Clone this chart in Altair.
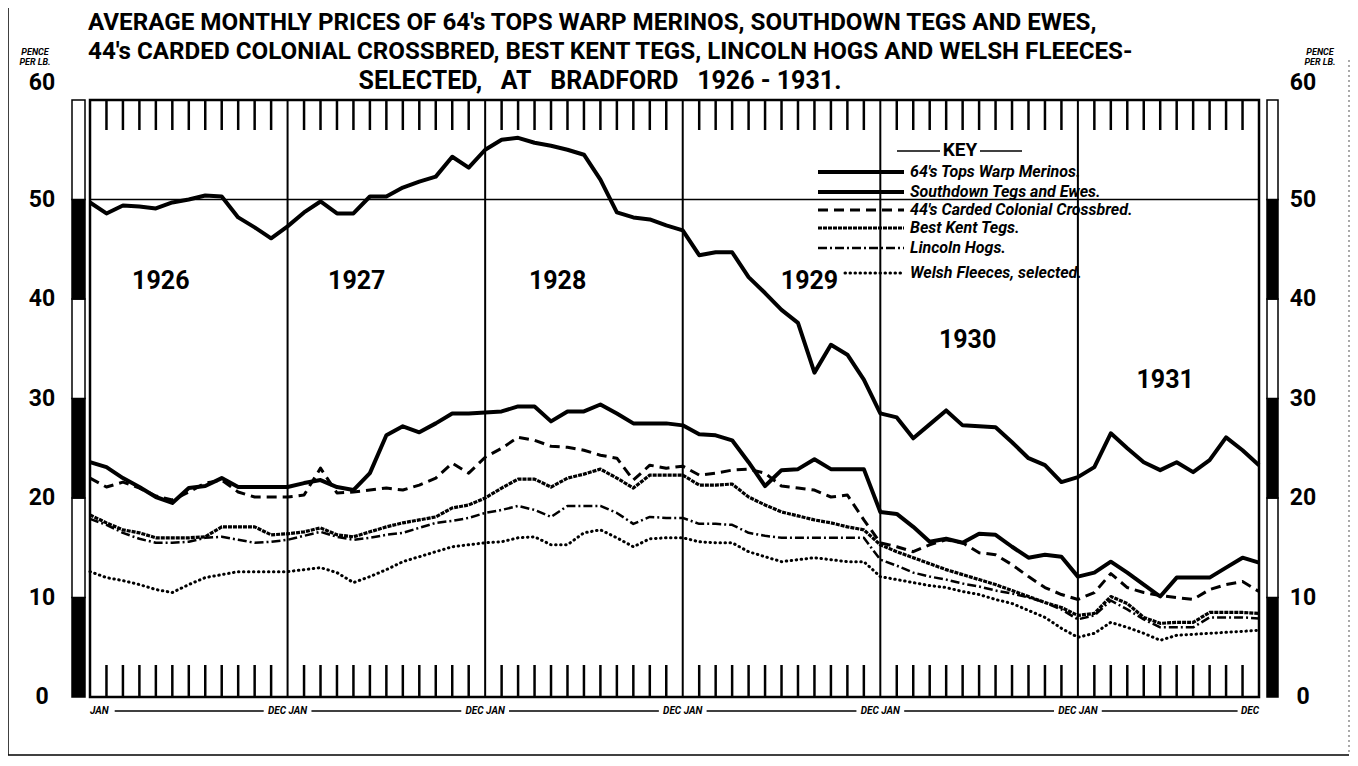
import altair as alt
import pandas as pd

# ---------------- data (pence per lb, monthly Jan 1926 .. Dec 1931) ----------------
months = list(range(72))
merinos = [49.7, 48.6, 49.4, 49.3, 49.1, 49.7, 50.0, 50.4, 50.3, 48.2, 47.2, 46.1,
           47.3, 48.7, 49.8, 48.6, 48.6, 50.3, 50.3, 51.2, 51.8, 52.3, 54.3, 53.2,
           55.0, 56.0, 56.2, 55.7, 55.4, 55.0, 54.5, 52.0, 48.7, 48.2, 48.0, 47.4,
           46.9, 44.4, 44.7, 44.7, 42.2, 40.6, 38.9, 37.6, 32.6, 35.4, 34.4, 31.9,
           28.5, 28.1, 26.0, 27.4, 28.8, 27.3, 27.2, 27.1, 25.6, 24.0, 23.3, 21.6,
           22.1, 23.1, 26.5, 25.0, 23.6, 22.8, 23.6, 22.6, 23.8, 26.1, 24.8, 23.3]
southdown = [23.6, 23.1, 22.0, 21.1, 20.1, 19.5, 21.0, 21.2, 22.0, 21.1, 21.1, 21.1,
             21.1, 21.5, 21.8, 21.1, 20.8, 22.5, 26.3, 27.2, 26.6, 27.5, 28.5, 28.5,
             28.6, 28.7, 29.2, 29.2, 27.7, 28.7, 28.7, 29.4, 28.5, 27.5, 27.5, 27.5,
             27.3, 26.4, 26.3, 25.8, 23.6, 21.2, 22.8, 22.9, 23.9, 22.9, 22.9, 22.9,
             18.6, 18.4, 17.1, 15.6, 15.9, 15.5, 16.4, 16.3, 15.1, 14.0, 14.3, 14.1,
             12.1, 12.5, 13.6, 12.5, 11.3, 10.1, 12.0, 12.0, 12.0, 13.0, 14.0, 13.5]
crossbred = [22.0, 21.1, 21.6, 21.0, 20.2, 19.8, 20.6, 21.5, 21.8, 20.6, 20.1, 20.1,
             20.1, 20.3, 23.0, 20.5, 20.6, 20.8, 21.0, 20.8, 21.3, 22.0, 23.5, 22.5,
             24.1, 25.0, 26.1, 25.8, 25.2, 25.1, 24.8, 24.3, 24.0, 21.8, 23.3, 23.0,
             23.2, 22.3, 22.5, 22.8, 22.9, 22.5, 21.2, 21.0, 20.8, 20.1, 20.3, 17.8,
             15.5, 15.1, 14.6, 15.3, 15.8, 15.5, 14.5, 14.3, 13.3, 12.1, 11.0, 10.3,
             9.8, 10.5, 12.4, 11.0, 10.5, 10.2, 10.0, 9.8, 10.8, 11.3, 11.6, 10.6]
kent = [18.3, 17.5, 16.8, 16.5, 16.0, 16.0, 16.0, 16.1, 17.1, 17.1, 17.1, 16.3,
        16.4, 16.6, 17.0, 16.3, 16.1, 16.6, 17.1, 17.5, 17.8, 18.1, 19.0, 19.3,
        20.0, 21.0, 21.9, 21.9, 21.1, 22.0, 22.4, 22.9, 22.0, 21.0, 22.3, 22.3,
        22.3, 21.3, 21.3, 21.4, 20.1, 19.3, 18.6, 18.2, 17.8, 17.5, 17.1, 16.8,
        15.3, 14.6, 14.0, 13.4, 12.8, 12.3, 11.8, 11.3, 10.7, 10.1, 9.5, 9.0,
        8.2, 8.4, 10.1, 9.4, 8.0, 7.4, 7.5, 7.5, 8.5, 8.5, 8.5, 8.4]
lincoln = [17.9, 17.3, 16.5, 15.9, 15.5, 15.5, 15.6, 16.0, 16.1, 15.8, 15.5, 15.6,
           15.8, 16.2, 16.6, 16.1, 15.8, 16.0, 16.3, 16.5, 17.0, 17.5, 17.7, 18.0,
           18.5, 18.8, 19.2, 18.8, 18.1, 19.2, 19.2, 19.2, 18.5, 17.4, 18.1, 18.0,
           18.0, 17.4, 17.4, 17.3, 16.5, 16.2, 16.0, 16.0, 16.0, 16.0, 16.0, 16.0,
           13.8, 13.2, 12.5, 12.1, 11.8, 11.4, 11.1, 10.7, 10.4, 10.0, 9.5, 8.8,
           7.8, 8.2, 9.7, 8.8, 7.8, 7.0, 7.0, 7.0, 8.0, 8.0, 8.0, 7.9]
welsh = [12.6, 12.0, 11.7, 11.3, 10.8, 10.5, 11.3, 12.0, 12.3, 12.6, 12.6, 12.6,
         12.6, 12.8, 13.0, 12.5, 11.5, 12.1, 12.8, 13.6, 14.1, 14.6, 15.1, 15.3,
         15.5, 15.6, 16.0, 16.1, 15.3, 15.3, 16.5, 16.8, 16.0, 15.1, 15.9, 16.0,
         16.0, 15.6, 15.5, 15.5, 14.6, 14.1, 13.6, 13.8, 14.0, 13.8, 13.6, 13.6,
         12.1, 11.8, 11.5, 11.2, 11.0, 10.6, 10.3, 9.8, 9.4, 8.7, 8.0, 6.9,
         6.0, 6.4, 7.5, 7.0, 6.4, 5.7, 6.2, 6.3, 6.4, 6.5, 6.6, 6.7]

series_names = ["64's Tops Warp Merinos.", "Southdown Tegs and Ewes.",
                "44's Carded Colonial Crossbred.", "Best Kent Tegs.",
                "Lincoln Hogs.", "Welsh Fleeces, selected."]
years = ["1926", "1927", "1928", "1929", "1930", "1931"]
year_breaks = [12, 24, 36, 48, 60]
pence_ticks = [0, 10, 20, 30, 40, 50, 60]
bar_bounds = [0, 10, 20, 30, 40, 50, 60]
NB = "\u00a0"
title_lines = ["AVERAGE  MONTHLY PRICES OF 64's TOPS WARP MERINOS, SOUTHDOWN TEGS AND EWES,",
               "44's CARDED COLONIAL CROSSBRED, BEST KENT TEGS, LINCOLN HOGS AND WELSH FLEECES-",
               "SELECTED," + NB * 3 + "AT" + NB * 3 + "BRADFORD" + NB * 3 + "1926" + NB + "-" + NB + "1931."]
axis_unit = ["PENCE", "PER LB."]
key_title = "KEY"

# ---------------- layout / styles ----------------
W, H = 1169, 597
FONT = "Roboto"
xs = alt.Scale(domain=[0, 71], nice=False, zero=False)
ys = alt.Scale(domain=[0, 60], nice=False, zero=True)

styles = [
    dict(strokeWidth=4),
    dict(strokeWidth=4),
    dict(strokeWidth=3, strokeDash=[10, 6]),
    dict(strokeWidth=3.2, strokeDash=[4, 1]),
    dict(strokeWidth=2.5, strokeDash=[9, 3, 2, 3]),
    dict(strokeWidth=3, strokeDash=[0.5, 4.5], strokeCap="round"),
]

values = [merinos, southdown, crossbred, kent, lincoln, welsh]
rows = []
for name, vals in zip(series_names, values):
    for m, v in zip(months, vals):
        rows.append({"series": name, "month": m, "price": v})
df = pd.DataFrame(rows)

layers = []

# outer border of the page
border = pd.DataFrame({"k": [0]})
layers.append(alt.Chart(border).mark_rule(color="black", strokeWidth=1.5).encode(
    x=alt.value(-82), y=alt.value(-92), y2=alt.value(H + 58)))
layers.append(alt.Chart(border).mark_rule(color="black", strokeWidth=1.5).encode(
    x=alt.value(-82), x2=alt.value(W + 90), y=alt.value(H + 58)))
layers.append(alt.Chart(border).mark_rule(color="#555", strokeWidth=1, strokeDash=[2, 3]).encode(
    x=alt.value(W + 90), y=alt.value(-40), y2=alt.value(H + 58)))

# scale bars (alternating black / white)
bars = pd.DataFrame({"lo": bar_bounds[:-1], "hi": bar_bounds[1:]})
bars["fill"] = ["black" if i % 2 == 0 else "white" for i in range(len(bars))]
for x0, x1 in [(-18, -5), (W + 8, W + 19)]:
    layers.append(alt.Chart(bars).mark_rect(stroke="black", strokeWidth=1.5).encode(
        x=alt.value(x0), x2=alt.value(x1),
        y=alt.Y("lo:Q", scale=ys, axis=None), y2="hi:Q",
        fill=alt.Fill("fill:N", scale=None)))

# month ticks (top and bottom)
tick_months = pd.DataFrame({"month": [m for m in range(1, 71) if m not in year_breaks]})
layers.append(alt.Chart(tick_months).mark_rule(color="black", strokeWidth=2.5).encode(
    x=alt.X("month:Q", scale=xs, axis=None), y=alt.value(0), y2=alt.value(30)))
layers.append(alt.Chart(tick_months).mark_rule(color="black", strokeWidth=2.5).encode(
    x=alt.X("month:Q", scale=xs, axis=None), y=alt.value(H - 32), y2=alt.value(H)))

# year dividers
layers.append(alt.Chart(pd.DataFrame({"month": year_breaks})).mark_rule(
    color="black", strokeWidth=2).encode(
    x=alt.X("month:Q", scale=xs, axis=None), y=alt.value(0), y2=alt.value(H)))

# 50 pence reference line
layers.append(alt.Chart(pd.DataFrame({"p": [50]})).mark_rule(color="black", strokeWidth=1.6).encode(
    y=alt.Y("p:Q", scale=ys, axis=None), x=alt.value(0), x2=alt.value(W)))

# price lines
for name, st in zip(series_names, styles):
    layers.append(alt.Chart(df).transform_filter(alt.datum.series == name).mark_line(
        color="black", strokeJoin="round", **st).encode(
        x=alt.X("month:Q", scale=xs, axis=None),
        y=alt.Y("price:Q", scale=ys, axis=None)))

# pence labels, left and right
lab = pd.DataFrame({"p": pence_ticks, "t": [str(p) for p in pence_ticks]})
lab["dy"] = [-17 if p == 60 else 0 for p in pence_ticks]
for xpos in [-48, W + 44]:
    for dy in [0, -17]:
        layers.append(alt.Chart(lab).transform_filter(alt.datum.dy == dy).mark_text(
            font=FONT, fontSize=23, fontWeight="bold", baseline="middle", align="center",
            dy=dy).encode(
            x=alt.value(xpos), y=alt.Y("p:Q", scale=ys, axis=None), text="t:N"))

# "PENCE PER LB."
for xpos in [-55, W + 61]:
    for i, t in enumerate(axis_unit):
        layers.append(alt.Chart(pd.DataFrame({"t": [t]})).mark_text(
            font=FONT, fontSize=9, fontWeight="bold", fontStyle="italic",
            align="center", baseline="middle").encode(
            x=alt.value(xpos), y=alt.value(-48 + 10 * i), text="t:N"))

# bottom month labels
bot = []
bot.append({"t": "JAN", "month": 0, "al": "left"})
for b in year_breaks:
    bot.append({"t": "DEC JAN", "month": b, "al": "center"})
bot.append({"t": "DEC", "month": 71, "al": "right"})
bot = pd.DataFrame(bot)
for al in ["left", "center", "right"]:
    layers.append(alt.Chart(bot).transform_filter(alt.datum.al == al).mark_text(
        font=FONT, fontSize=10, fontWeight="bold", fontStyle="italic", align=al,
        baseline="middle").encode(
        x=alt.X("month:Q", scale=xs, axis=None), y=alt.value(H + 14), text="t:N"))
seg_edges = [0] + year_breaks + [71]
segs = pd.DataFrame({"a": [seg_edges[i] + (1.5 if i == 0 else 1.45) for i in range(6)],
                     "b": [seg_edges[i + 1] - (1.3 if i == 5 else 1.45) for i in range(6)]})
layers.append(alt.Chart(segs).mark_rule(color="black", strokeWidth=1.3).encode(
    x=alt.X("a:Q", scale=xs, axis=None), x2="b:Q", y=alt.value(H + 14)))

# year labels
year_pos = pd.DataFrame({"t": years,
                         "month": [4.3, 16.2, 28.4, 43.7, 53.3, 65.3],
                         "p": [41.8, 41.8, 41.8, 41.8, 35.9, 31.9]})
layers.append(alt.Chart(year_pos).mark_text(
    font=FONT, fontSize=25, fontWeight="bold", align="center", baseline="middle").encode(
    x=alt.X("month:Q", scale=xs, axis=None), y=alt.Y("p:Q", scale=ys, axis=None), text="t:N"))

# key
layers.append(alt.Chart(pd.DataFrame({"t": [key_title]})).mark_text(
    font=FONT, fontSize=19, fontWeight="bold", align="center", baseline="middle").encode(
    x=alt.value(870), y=alt.value(50), text="t:N"))
for a, b in [(807, 850), (890, 932)]:
    layers.append(alt.Chart(pd.DataFrame({"k": [0]})).mark_rule(color="black", strokeWidth=1.5).encode(
        x=alt.value(a), x2=alt.value(b), y=alt.value(51)))
key_y = [72, 92, 110, 128, 148, 173]
for i, (name, st) in enumerate(zip(series_names, styles)):
    x0 = 755 if i == 5 else 728
    layers.append(alt.Chart(pd.DataFrame({"series": [name]})).mark_rule(color="black", **st).encode(
        x=alt.value(x0), x2=alt.value(814), y=alt.value(key_y[i])))
    layers.append(alt.Chart(pd.DataFrame({"series": [name]})).mark_text(
        font=FONT, fontSize=16, fontWeight="bold", fontStyle="italic", align="left",
        baseline="middle").encode(
        x=alt.value(820), y=alt.value(key_y[i]), text="series:N"))

# title
title_pos = [(-2, -77, "left", 24.2), (-2, -48, "left", 24.2), (510, -19, "center", 25)]
for t, (xp, yp, al, fs) in zip(title_lines, title_pos):
    layers.append(alt.Chart(pd.DataFrame({"t": [t]})).mark_text(
        font=FONT, fontSize=fs, fontWeight="bold", align=al, baseline="middle").encode(
        x=alt.value(xp), y=alt.value(yp), text="t:N"))

chart = alt.layer(*layers).properties(
    width=W, height=H,
    autosize=alt.AutoSizeParams(type="none"),
    padding={"left": 82, "top": 92, "right": 91, "bottom": 61},
    background="white",
).configure_view(stroke="black", strokeWidth=2.5)

chart.save("out.html", embed_options={"renderer": "svg", "actions": False})
